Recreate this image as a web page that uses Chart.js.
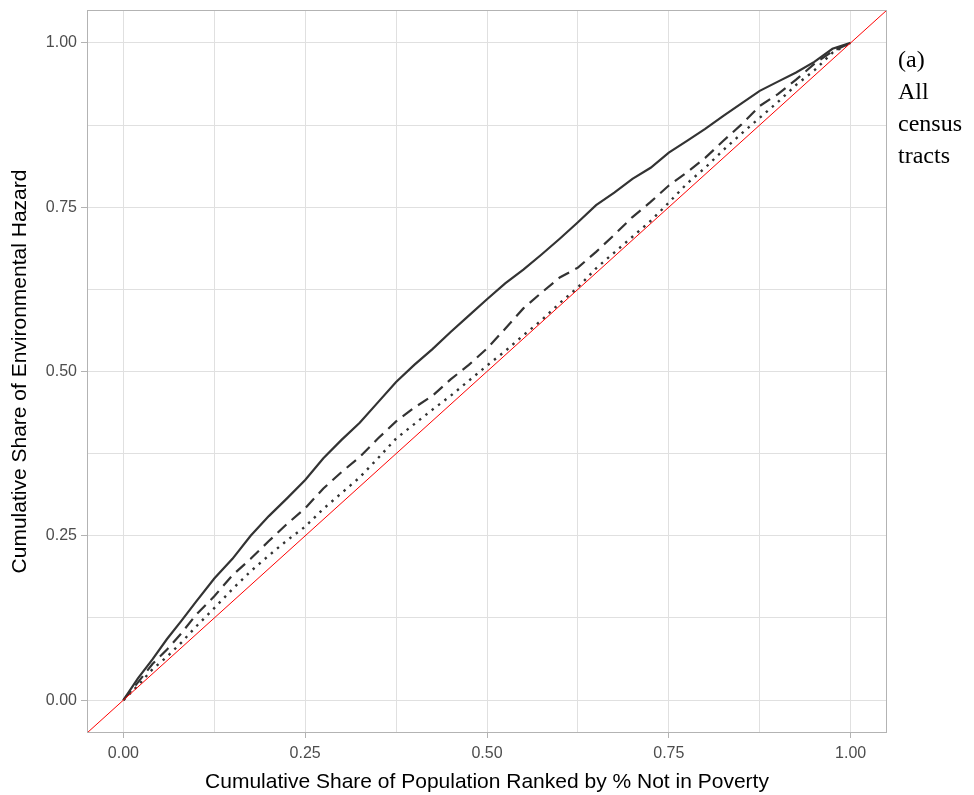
<!DOCTYPE html>
<html>
<head>
<meta charset="utf-8">
<script src="https://cdn.jsdelivr.net/npm/chart.js@4.4.1/dist/chart.umd.min.js"></script>
<style>
  html, body { margin: 0; padding: 0; background: #fff; }
  #wrap { position: relative; width: 974px; height: 795px; }
</style>
</head>
<body>
<div id="wrap"><canvas id="lorenzChart"></canvas></div>
<script>
// cumulative population share (x) shared by the three curves
const popShare = [0, 0.02, 0.04, 0.06, 0.08, 0.10, 0.125, 0.15, 0.175, 0.20, 0.225, 0.25, 0.275, 0.30,
  0.325, 0.35, 0.375, 0.40, 0.425, 0.45, 0.475, 0.50, 0.525, 0.55, 0.575, 0.60, 0.625, 0.65, 0.675,
  0.70, 0.725, 0.75, 0.775, 0.80, 0.825, 0.85, 0.875, 0.90, 0.925, 0.95, 0.975, 1.0];

const hazardSolid = [0, 0.033, 0.062, 0.093, 0.121, 0.150, 0.185, 0.215, 0.250, 0.280, 0.307, 0.335, 0.368, 0.396,
  0.422, 0.453, 0.484, 0.510, 0.534, 0.560, 0.585, 0.610, 0.634, 0.655, 0.678, 0.702, 0.727, 0.753, 0.772,
  0.793, 0.810, 0.833, 0.851, 0.869, 0.889, 0.908, 0.927, 0.941, 0.955, 0.971, 0.991, 1.0];

const hazardDashed = [0, 0.027, 0.055, 0.077, 0.102, 0.130, 0.158, 0.190, 0.215, 0.242, 0.268, 0.292, 0.322, 0.347,
  0.370, 0.398, 0.424, 0.445, 0.463, 0.488, 0.510, 0.535, 0.565, 0.596, 0.620, 0.643, 0.658, 0.682, 0.708,
  0.735, 0.758, 0.783, 0.803, 0.825, 0.851, 0.876, 0.904, 0.922, 0.944, 0.968, 0.987, 1.0];

const hazardDotted = [0, 0.022, 0.047, 0.066, 0.088, 0.112, 0.140, 0.169, 0.196, 0.220, 0.243, 0.264, 0.291, 0.315,
  0.339, 0.368, 0.398, 0.420, 0.442, 0.463, 0.486, 0.509, 0.531, 0.555, 0.578, 0.604, 0.628, 0.657, 0.681,
  0.705, 0.729, 0.757, 0.786, 0.810, 0.837, 0.862, 0.886, 0.910, 0.936, 0.958, 0.985, 1.0];

// line of equality, drawn across the whole panel
const equalityLine = [-0.05, 1.05];

const axisRange = [-0.05, 1.05];
const tickValues = [0, 0.25, 0.5, 0.75, 1];
const gridValues = [0, 0.125, 0.25, 0.375, 0.5, 0.625, 0.75, 0.875, 1];
const panelLabel = ['(a)', 'All', 'census', 'tracts'];

const toPoints = (xs, ys) => xs.map((x, i) => ({ x: x, y: ys[i] }));

const GRID = '#e0e0e0';
const BORDER = '#b3b3b3';
const INK = '#333333';

const panelExtras = {
    id: 'panelExtras',
    afterDatasetsDraw(chart) {
        const { ctx, chartArea: a } = chart;
        ctx.save();
        ctx.strokeStyle = BORDER;
        ctx.lineWidth = 1;
        ctx.strokeRect(a.left + 0.5, a.top + 0.5, a.right - a.left - 1, a.bottom - a.top - 1);
        ctx.restore();
    },
    afterDraw(chart) {
        const { ctx, chartArea: a } = chart;
        ctx.save();
        ctx.fillStyle = '#000';
        ctx.font = '24px "Liberation Serif", "Times New Roman", serif';
        ctx.textAlign = 'left';
        ctx.textBaseline = 'alphabetic';
        panelLabel.forEach((t, i) => ctx.fillText(t, a.right + 11, 67 + i * 32));
        ctx.restore();
    }
};

function axisOptions(titleText, isX) {
    return {
        type: 'linear',
        min: axisRange[0],
        max: axisRange[1],
        afterBuildTicks: (scale) => { scale.ticks = gridValues.map((v) => ({ value: v })); },
        afterFit: (scale) => {
            if (isX) scale.height = 62; else scale.width = 87;
            scale.paddingTop = 0;
            scale.paddingBottom = 0;
            scale.paddingLeft = 0;
            scale.paddingRight = 0;
        },
        ticks: {
            autoSkip: false,
            maxRotation: 0,
            padding: isX ? 6 : 4,
            color: '#4d4d4d',
            font: { family: '"Liberation Sans", Arial, sans-serif', size: 16 },
            callback: (v) => (tickValues.includes(v) ? v.toFixed(2) : '')
        },
        grid: {
            color: GRID,
            lineWidth: 1,
            tickLength: isX ? 5 : 6,
            tickColor: (c) => (c.tick && tickValues.includes(c.tick.value) ? BORDER : 'rgba(0,0,0,0)')
        },
        border: { display: false },
        title: {
            display: true,
            text: titleText,
            color: '#000',
            padding: { top: isX ? 1 : 8, bottom: 0 },
            font: { family: '"Liberation Sans", Arial, sans-serif', size: 21 }
        }
    };
}

new Chart(document.getElementById('lorenzChart').getContext('2d'), {
    type: 'scatter',
    data: {
        datasets: [
            {
                label: 'Equality',
                data: toPoints(equalityLine, equalityLine),
                showLine: true,
                borderColor: '#ff0000',
                borderWidth: 1,
                pointRadius: 0
            },
            {
                label: 'Solid',
                data: toPoints(popShare, hazardSolid),
                showLine: true,
                borderColor: INK,
                borderWidth: 2.2,
                pointRadius: 0
            },
            {
                label: 'Dashed',
                data: toPoints(popShare, hazardDashed),
                showLine: true,
                borderColor: INK,
                borderWidth: 2.2,
                borderDash: [12, 7],
                pointRadius: 0
            },
            {
                label: 'Dotted',
                data: toPoints(popShare, hazardDotted),
                showLine: true,
                borderColor: INK,
                borderWidth: 2.4,
                borderDash: [2.4, 5.6],
                pointRadius: 0
            }
        ]
    },
    options: {
        responsive: true,
        maintainAspectRatio: false,
        animation: false,
        layout: { padding: { top: 10, right: 87, left: 0, bottom: 0 } },
        plugins: { legend: { display: false }, tooltip: { enabled: false } },
        scales: {
            x: axisOptions('Cumulative Share of Population Ranked by % Not in Poverty', true),
            y: axisOptions('Cumulative Share of Environmental Hazard', false)
        }
    },
    plugins: [panelExtras]
});
</script>
</body>
</html>
